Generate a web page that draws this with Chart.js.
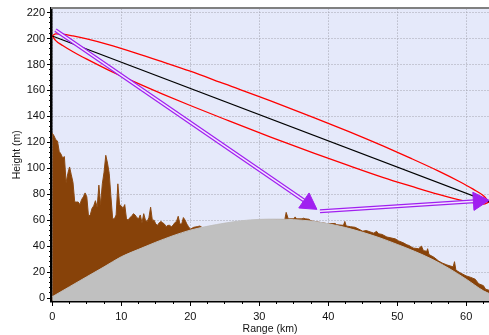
<!DOCTYPE html>
<html>
<head>
<meta charset="utf-8">
<script src="https://cdn.jsdelivr.net/npm/chart.js@4.4.0/dist/chart.umd.min.js"></script>
<style>
  html, body { margin: 0; padding: 0; background: #fff; }
</style>
</head>
<body>
<canvas id="chart-1" width="489" height="335"></canvas>
<script>
// terrain profile (km / m), 0-20 km sampled every 0.25 km, then the bumps along the bulge
const terrainKm = [
  0, 0.25, 0.5, 0.75, 1, 1.25, 1.5, 1.75,
  2, 2.25, 2.5, 2.75, 3, 3.25, 3.5, 3.75,
  4, 4.25, 4.5, 4.75, 5, 5.25, 5.5, 5.75,
  6, 6.25, 6.5, 6.75, 7, 7.25, 7.5, 7.75,
  8, 8.25, 8.5, 8.75, 9, 9.25, 9.5, 9.75,
  10, 10.25, 10.5, 10.75, 11, 11.25, 11.5, 11.75,
  12, 12.25, 12.5, 12.75, 13, 13.25, 13.5, 13.75,
  14, 14.25, 14.5, 14.75, 15, 15.25, 15.5, 15.75,
  16, 16.25, 16.5, 16.75, 17, 17.25, 17.5, 17.75,
  18, 18.25, 18.5, 18.75, 19, 19.25, 19.5, 19.75,
  20, 20.5, 21, 21.4, 21.8, 25, 30, 33.5, 33.7, 33.9,
  34.2, 35, 35.2, 35.4, 36.2, 36.4, 36.7, 37.2, 37.5, 40,
  41, 41.2, 42.2, 42.4, 42.6, 43.2, 43.9, 45, 45.5, 46.6,
  47, 47.3, 47.8, 48.5, 49.7, 50.2, 50.9, 51.4, 51.7, 52.3,
  53.1, 53.5, 53.8, 54.3, 54.4, 54.6, 55.3, 56, 56.5, 57.2,
  58.1, 58.3, 58.5, 59.1, 60, 60.6, 61.3, 61.8, 62.5, 62.8, 63.3
];
const terrainM = [
  127, 125, 122, 121, 113, 111, 108, 109,
  89, 96, 101, 95, 89, 74, 74, 74,
  72, 76, 78, 81, 78, 63, 64, 69,
  71, 75, 70, 87, 72, 88, 97, 110,
  104, 96, 78, 61, 61, 64, 88, 72,
  71, 69, 72, 61, 60, 62, 63, 65,
  64, 62, 61, 64, 58, 65, 60, 59,
  62, 70, 60, 60, 57, 56, 58, 59,
  58, 57, 55, 56, 56, 55, 56, 58,
  59, 63, 57, 57, 62, 60, 57, 55,
  53, 54.5, 55, 55.5, 54, 57, 60, 60.3, 60.5, 66,
  61, 61, 62.5, 61, 61, 61.5, 61, 60.7, 59.5, 57.2,
  57.5, 56.5, 56, 59, 55.5, 55, 54.5, 51.5, 52, 50,
  51.4, 49.5, 49, 47, 45.6, 44, 42.5, 41, 40.5, 38.5,
  38, 40, 36.5, 36, 38, 33.5, 31.5, 28.5, 27, 25.5,
  24, 28, 21.5, 19.5, 17, 16, 14.5, 11, 9.5, 6.8, 6
];

// earth bulge
const bulgeKm = [0, 2.5, 5, 7.5, 10, 12.5, 15, 17.5, 20, 22.5, 25, 27.5, 30, 32.5,
  35, 37.5, 40, 42.5, 45, 47.5, 50, 52.5, 55, 57.5, 60, 62.5, 63.3];
const bulgeM = [1, 8.7, 16.4, 24, 31.8, 37.5, 43, 48, 52.3, 55.3, 57.7, 59.6, 60.6, 60.8,
  60.4, 59.3, 57.2, 54.3, 50.6, 46.3, 41.3, 36, 30, 22.8, 14.5, 5.5, 3.5];

// line of sight
const losKm = [0, 63.3];
const losM = [202, 74];

// fresnel zone edges
const fresnelKm = [0, 0.5, 1.5, 3, 5, 8, 12, 16, 20, 25, 31.65, 38, 43, 48, 52, 56, 59, 61, 62.5, 63.3];
const fresnelUpperM = [202, 203.6, 203.4, 202, 199.7, 195.5, 189, 182, 174.8, 165, 152,
  138.9, 128.2, 117, 107.6, 97.8, 89.8, 83.9, 78.8, 74];
const fresnelLowerM = [202, 198.4, 194.6, 189.8, 184.1, 176.1, 166.4, 157.2, 148.4, 137.8, 124,
  111.5, 102, 92.8, 86.2, 79.8, 75.6, 73.5, 72.4, 74];

// reflection arrows (start, end)
const arrowOneKm = [0.46, 37.1];
const arrowOneM = [206.5, 72.9];
const arrowTwoKm = [38.8, 61.8];
const arrowTwoM = [66.9, 74.8];

const FONT = "'Liberation Sans', Arial, sans-serif";
const PURPLE = "#a020f0";

function pts(xs, ys) {
  return xs.map((x, i) => ({ x: x, y: ys[i] }));
}

const arrows = [
  { km: arrowOneKm, m: arrowOneM },
  { km: arrowTwoKm, m: arrowTwoM },
];

var plotBackground = {
  id: "plotBackground",
  beforeDraw(chart) {
    const { ctx, chartArea: a } = chart;
    ctx.save();
    ctx.fillStyle = "#e5e9fa";
    ctx.fillRect(a.left, a.top, a.right - a.left, a.bottom - a.top);
    ctx.restore();
  },
  afterDraw(chart) {
    const { ctx, chartArea: a } = chart;
    ctx.save();
    ctx.strokeStyle = "#808080";
    ctx.lineWidth = 2;
    ctx.beginPath();
    ctx.moveTo(a.left, a.top - 0.5);
    ctx.lineTo(a.right, a.top - 0.5);
    ctx.stroke();
    ctx.restore();
  },
};

var xMin = -0.19, xMax = 63.3, yMin = -2.31, yMax = 223.08;

var datasets = [
  {
    label: "heads",
    data: arrows.map((a) => ({ x: a.km[1], y: a.m[1] })),
    showLine: false,
    pointStyle: "triangle",
    pointRadius: 10.5,
    pointBackgroundColor: PURPLE,
    pointBorderColor: PURPLE,
    pointBorderWidth: 1,
    pointRotation: (c) => {
      const a = arrows[c.dataIndex];
      const xs = c.chart.scales.x, ys = c.chart.scales.y;
      const dx = xs.getPixelForValue(a.km[1]) - xs.getPixelForValue(a.km[0]);
      const dy = ys.getPixelForValue(a.m[1]) - ys.getPixelForValue(a.m[0]);
      return 90 + (Math.atan2(dy, dx) * 180) / Math.PI;
    },
    clip: false,
    order: 0,
  },
  { data: pts(arrowOneKm, arrowOneM), borderColor: "#f2e6ff", borderWidth: 1.5, order: 1 },
  { data: pts(arrowTwoKm, arrowTwoM), borderColor: "#f2e6ff", borderWidth: 1.5, order: 1 },
  { data: pts(arrowOneKm, arrowOneM), borderColor: PURPLE, borderWidth: 4, order: 2 },
  { data: pts(arrowTwoKm, arrowTwoM), borderColor: PURPLE, borderWidth: 4, order: 2 },
  { data: pts(losKm, losM), borderColor: "#000", borderWidth: 1.2, order: 3 },
  { data: pts(fresnelKm, fresnelUpperM), borderColor: "#ff0000", borderWidth: 1.3, cubicInterpolationMode: "monotone", order: 3 },
  { data: pts(fresnelKm, fresnelLowerM), borderColor: "#ff0000", borderWidth: 1.3, cubicInterpolationMode: "monotone", order: 3 },
  { data: pts(bulgeKm, bulgeM), borderColor: "#c0c0c0", backgroundColor: "#c0c0c0", borderWidth: 1, fill: "start", cubicInterpolationMode: "monotone", order: 5 },
  { data: pts(terrainKm, terrainM), borderColor: "#8d4a12", backgroundColor: "#874209", borderWidth: 1, fill: "start", order: 6 },
];

datasets.forEach((d) => {
  if (d.pointRadius === undefined) d.pointRadius = 0;
});

var lineChart = new Chart(document.getElementById("chart-1"), {
  type: "line",
  data: { datasets: datasets },
  plugins: [plotBackground],
  options: {
    responsive: false,
    animation: false,
    devicePixelRatio: 1,
    layout: { autoPadding: false, padding: { top: 8, left: 0, right: 0, bottom: 0 } },
    plugins: { legend: { display: false }, tooltip: { enabled: false } },
    scales: {
      x: {
        type: "linear",
        position: "bottom",
        min: xMin,
        max: xMax,
        weight: 1,
        afterFit: (s) => { s.height = 34; },
        ticks: { stepSize: 10, includeBounds: false, maxRotation: 0, padding: 4, color: "#111", font: { family: FONT, size: 11 } },
        grid: { color: "#a4a4b0", tickColor: "#000", tickLength: 5 },
        border: { color: "#000", width: 2.5, dash: [1, 2] },
        title: { display: true, text: "Range (km)", color: "#111", font: { family: FONT, size: 10.5 }, padding: { top: 0, bottom: 0 } },
      },
      xMinor: {
        type: "linear",
        position: "bottom",
        min: xMin,
        max: xMax,
        weight: 0,
        afterFit: (s) => { s.height = 0; },
        ticks: { display: false, stepSize: 2.5, includeBounds: false, autoSkip: false },
        grid: { drawOnChartArea: false, tickColor: "#000", tickLength: 3 },
        border: { display: false },
      },
      y: {
        type: "linear",
        position: "left",
        min: yMin,
        max: yMax,
        weight: 1,
        afterFit: (s) => { s.width = 51; },
        ticks: { stepSize: 20, includeBounds: false, padding: 2, color: "#111", font: { family: FONT, size: 11 } },
        grid: { color: "#a4a4b0", tickColor: "#000", tickLength: 4 },
        border: { color: "#000", width: 2.5, dash: [1, 2] },
        title: { display: true, text: "Height (m)", color: "#111", font: { family: FONT, size: 10.5 }, padding: { top: 10.5, bottom: 0 } },
      },
      yMinor: {
        type: "linear",
        position: "left",
        min: yMin,
        max: yMax,
        weight: 0,
        afterFit: (s) => { s.width = 0; },
        ticks: { display: false, stepSize: 4, includeBounds: false, autoSkip: false },
        grid: { drawOnChartArea: false, tickColor: "#000", tickLength: 2 },
        border: { display: false },
      },
    },
  },
});
</script>
</body>
</html>
